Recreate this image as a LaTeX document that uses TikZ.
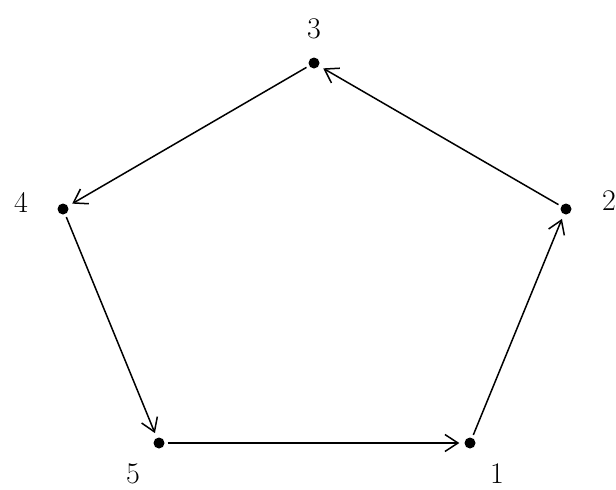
\documentclass[tikz,border=0pt]{standalone}
\usepackage{fontspec}
\usetikzlibrary{arrows.meta}

\newcommand{\labelsize}{\fontsize{30}{32}\selectfont}

\begin{document}
\begin{tikzpicture}[x=1pt, y=-1pt,
    vertex/.style={circle, fill, inner sep=0pt, minimum size=11pt},
    vlabel/.style={inner sep=0pt},
    edge/.style={line width=1.5pt, -{Straight Barb[length=13pt, width=17pt, line width=1.5pt]},
                 shorten >=5pt, shorten <=3pt}]
    \useasboundingbox (0,0) rectangle (616,490);

    % vertices of the pentagon
    \node[vertex] (v1) at (470,443) {};
    \node[vertex] (v2) at (566,209) {};
    \node[vertex] (v3) at (314,63)  {};
    \node[vertex] (v4) at (63,209)  {};
    \node[vertex] (v5) at (159,443) {};

    \node[vlabel] (l1) at (497,474) {\labelsize 1};
    \node[vlabel] (l2) at (609,201) {\labelsize 2};
    \node[vlabel] (l3) at (314,29)  {\labelsize 3};
    \node[vlabel] (l4) at (21,202)  {\labelsize 4};
    \node[vlabel] (l5) at (133,474) {\labelsize 5};

    % directed cycle
    \foreach \a/\b in {v1/v2, v2/v3, v3/v4, v4/v5, v5/v1}{
        \draw[edge] (\a) -- (\b);
    }
\end{tikzpicture}
\end{document}
